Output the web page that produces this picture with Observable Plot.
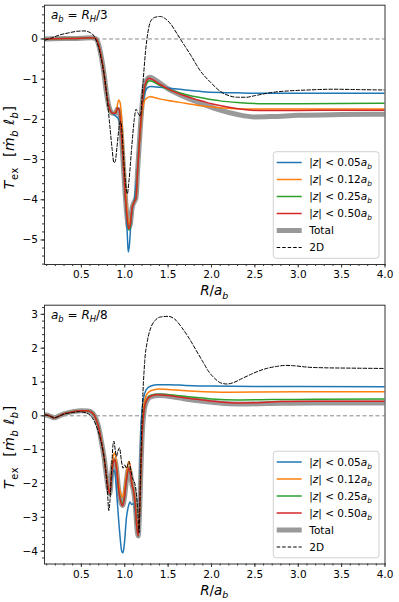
<!DOCTYPE html>
<html>
<head>
<meta charset="utf-8">
<script src="https://cdn.jsdelivr.net/npm/d3@7"></script>
<script src="https://cdn.jsdelivr.net/npm/@observablehq/plot@0.6"></script>
<style>
  html, body { margin: 0; padding: 0; background: #fff; }
  #chart { width: 399px; height: 602px; }
  #chart svg { display: block; overflow: visible; }
</style>
</head>
<body>
<div id="chart"></div>
<script>
// ---------------- DATA ----------------
const xMajorTicks = [0.5, 1.0, 1.5, 2.0, 2.5, 3.0, 3.5, 4.0];
const topYTicks = [-5, -4, -3, -2, -1, 0];
const botYTicks = [-4, -3, -2, -1, 0, 1, 2, 3];
const seriesCuts = ["0.05", "0.12", "0.25", "0.50"];
const seriesColors = ["#1f77b4", "#ff7f0e", "#2ca02c", "#d62728"];
const panelTitles = ["3", "8"];

// Top panel: a_b = R_H/3
const top_z005 = [[0.08,0],[0.3,0.01],[0.5,0.02],[0.62,0.03],[0.67,0],[0.7,-0.15],[0.73,-0.45],[0.76,-0.85],[0.79,-1.35],[0.82,-1.7],[0.86,-1.85],[0.9,-1.93],[0.93,-2.0],[0.96,-2.25],[0.99,-3.0],[1.01,-4.0],[1.03,-4.9],[1.04,-5.3],[1.055,-5.1],[1.07,-4.6],[1.09,-4.2],[1.11,-4.0],[1.14,-3.4],[1.17,-2.5],[1.2,-1.8],[1.23,-1.35],[1.27,-1.2],[1.3,-1.18],[1.4,-1.2],[1.5,-1.22],[1.7,-1.27],[1.9,-1.31],[2.1,-1.33],[2.3,-1.34],[2.6,-1.35],[3.0,-1.35],[3.5,-1.35],[4.0,-1.35]];
const top_z012 = [[0.08,0],[0.3,0.01],[0.5,0.02],[0.62,0.03],[0.67,0],[0.7,-0.15],[0.73,-0.45],[0.76,-0.85],[0.79,-1.35],[0.82,-1.7],[0.86,-1.85],[0.9,-1.8],[0.93,-1.52],[0.95,-1.62],[0.97,-2.2],[0.99,-3.0],[1.01,-3.7],[1.03,-4.35],[1.05,-4.6],[1.07,-4.45],[1.09,-4.15],[1.11,-4.05],[1.13,-3.95],[1.15,-3.2],[1.18,-2.3],[1.21,-1.7],[1.24,-1.5],[1.29,-1.44],[1.4,-1.49],[1.5,-1.53],[1.7,-1.6],[1.9,-1.67],[2.1,-1.71],[2.4,-1.74],[3.0,-1.74],[4.0,-1.74]];
const top_z025 = [[0.08,0],[0.3,0.01],[0.5,0.02],[0.62,0.03],[0.67,0],[0.7,-0.15],[0.73,-0.45],[0.76,-0.85],[0.79,-1.35],[0.82,-1.7],[0.86,-1.85],[0.895,-1.85],[0.915,-1.72],[0.935,-1.75],[0.955,-2.2],[0.98,-3.0],[1.0,-3.7],[1.025,-4.45],[1.05,-4.75],[1.065,-4.65],[1.085,-4.2],[1.11,-4.05],[1.13,-3.95],[1.15,-3.2],[1.18,-2.2],[1.21,-1.5],[1.24,-1.15],[1.29,-1.04],[1.4,-1.15],[1.5,-1.25],[1.7,-1.38],[1.9,-1.47],[2.1,-1.54],[2.3,-1.58],[2.6,-1.61],[3.0,-1.61],[4.0,-1.6]];
const top_z050 = [[0.08,0],[0.3,0.01],[0.5,0.02],[0.62,0.03],[0.67,0],[0.7,-0.15],[0.73,-0.45],[0.76,-0.85],[0.79,-1.35],[0.82,-1.7],[0.86,-1.85],[0.895,-1.85],[0.915,-1.72],[0.935,-1.75],[0.955,-2.2],[0.98,-3.0],[1.0,-3.7],[1.025,-4.4],[1.045,-4.72],[1.065,-4.6],[1.085,-4.2],[1.11,-4.05],[1.13,-3.95],[1.15,-3.2],[1.18,-2.2],[1.21,-1.45],[1.24,-1.1],[1.28,-0.98],[1.31,-1.0],[1.4,-1.12],[1.5,-1.24],[1.6,-1.34],[1.7,-1.42],[1.8,-1.49],[1.9,-1.55],[2.0,-1.61],[2.2,-1.7],[2.4,-1.76],[2.6,-1.78],[3.0,-1.78],[3.5,-1.77],[4.0,-1.77]];
const top_total = [[0.08,0],[0.3,0.01],[0.5,0.02],[0.62,0.03],[0.67,0],[0.7,-0.15],[0.73,-0.45],[0.76,-0.85],[0.79,-1.35],[0.82,-1.7],[0.86,-1.85],[0.895,-1.85],[0.915,-1.74],[0.935,-1.78],[0.955,-2.2],[0.98,-3.0],[1.0,-3.7],[1.025,-4.4],[1.045,-4.7],[1.065,-4.6],[1.085,-4.2],[1.11,-4.05],[1.13,-3.95],[1.15,-3.2],[1.18,-2.2],[1.21,-1.42],[1.24,-1.07],[1.29,-0.95],[1.35,-1.02],[1.5,-1.24],[1.7,-1.45],[1.9,-1.62],[2.1,-1.77],[2.3,-1.88],[2.5,-1.94],[2.7,-1.93],[3.0,-1.9],[3.5,-1.88],[4.0,-1.87]];
const top_2d = [[0.08,-0.03],[0.15,0.02],[0.25,0.1],[0.35,0.15],[0.45,0.19],[0.53,0.2],[0.6,0.16],[0.65,0.06],[0.69,-0.15],[0.73,-0.5],[0.77,-1.0],[0.8,-1.55],[0.83,-2.2],[0.855,-2.75],[0.875,-3.08],[0.89,-3.05],[0.91,-2.7],[0.935,-2.2],[0.95,-2.05],[0.965,-2.2],[0.985,-2.9],[1.01,-3.6],[1.03,-3.85],[1.05,-3.5],[1.08,-2.7],[1.11,-2.0],[1.13,-1.75],[1.155,-1.85],[1.18,-1.92],[1.21,-1.1],[1.24,-0.3],[1.27,0.2],[1.3,0.45],[1.35,0.54],[1.41,0.56],[1.47,0.5],[1.53,0.37],[1.6,0.14],[1.64,0],[1.7,-0.2],[1.76,-0.4],[1.87,-0.79],[1.99,-1.08],[2.1,-1.3],[2.2,-1.41],[2.3,-1.45],[2.4,-1.45],[2.5,-1.41],[2.7,-1.33],[2.9,-1.29],[3.1,-1.27],[3.4,-1.25],[3.7,-1.26],[4.0,-1.27]];

// Bottom panel: a_b = R_H/8
const bot_z005 = [[0.08,0.03],[0.13,0],[0.19,-0.06],[0.24,-0.01],[0.3,0.06],[0.4,0.12],[0.5,0.15],[0.58,0.14],[0.63,0.08],[0.67,-0.1],[0.7,-0.35],[0.73,-0.75],[0.76,-1.2],[0.79,-1.8],[0.81,-2.15],[0.828,-2.3],[0.85,-1.9],[0.87,-1.6],[0.885,-1.65],[0.91,-2.4],[0.94,-3.4],[0.965,-4.0],[0.98,-4.05],[0.995,-3.8],[1.02,-3.0],[1.04,-2.7],[1.06,-2.55],[1.08,-2.62],[1.1,-2.6],[1.12,-2.8],[1.14,-3.3],[1.16,-3.5],[1.17,-2.6],[1.18,-1.2],[1.19,-0.2],[1.21,0.4],[1.25,0.78],[1.3,0.88],[1.38,0.92],[1.5,0.92],[1.7,0.9],[2.0,0.88],[2.5,0.87],[3.0,0.87],[4.0,0.86]];
const bot_z012 = [[0.08,0.03],[0.13,0],[0.19,-0.06],[0.24,-0.01],[0.3,0.06],[0.4,0.12],[0.5,0.15],[0.58,0.14],[0.63,0.08],[0.67,-0.1],[0.7,-0.35],[0.73,-0.75],[0.76,-1.2],[0.79,-1.8],[0.81,-2.15],[0.828,-2.3],[0.85,-1.6],[0.87,-1.15],[0.885,-1.1],[0.905,-1.4],[0.93,-2.0],[0.955,-2.3],[0.975,-2.4],[0.995,-2.2],[1.02,-1.7],[1.045,-1.35],[1.065,-1.5],[1.085,-2.0],[1.1,-2.15],[1.12,-2.5],[1.14,-3.2],[1.155,-3.5],[1.17,-2.8],[1.185,-1.5],[1.2,-0.4],[1.22,0.3],[1.25,0.62],[1.3,0.74],[1.4,0.79],[1.6,0.76],[1.8,0.73],[2.2,0.7],[3.0,0.71],[4.0,0.71]];
const bot_z025 = [[0.08,0.03],[0.13,0],[0.19,-0.06],[0.24,-0.01],[0.3,0.06],[0.4,0.12],[0.5,0.15],[0.58,0.14],[0.63,0.08],[0.67,-0.1],[0.7,-0.35],[0.73,-0.75],[0.76,-1.2],[0.79,-1.8],[0.81,-2.15],[0.828,-2.3],[0.85,-1.7],[0.87,-1.35],[0.885,-1.3],[0.905,-1.55],[0.93,-2.2],[0.955,-2.5],[0.975,-2.62],[0.995,-2.42],[1.02,-1.9],[1.045,-1.55],[1.065,-1.7],[1.085,-2.05],[1.1,-2.2],[1.12,-2.6],[1.14,-3.3],[1.155,-3.55],[1.17,-2.9],[1.185,-1.7],[1.2,-0.6],[1.22,0.1],[1.25,0.45],[1.3,0.6],[1.4,0.64],[1.6,0.6],[1.8,0.55],[2.0,0.5],[2.3,0.47],[2.7,0.48],[3.2,0.49],[4.0,0.5]];
const bot_z050 = [[0.08,0.03],[0.13,0],[0.19,-0.06],[0.24,-0.01],[0.3,0.06],[0.4,0.12],[0.5,0.15],[0.58,0.14],[0.63,0.08],[0.67,-0.1],[0.7,-0.35],[0.73,-0.75],[0.76,-1.2],[0.79,-1.8],[0.81,-2.15],[0.828,-2.3],[0.85,-1.7],[0.87,-1.35],[0.885,-1.3],[0.905,-1.55],[0.93,-2.2],[0.955,-2.55],[0.975,-2.66],[0.995,-2.45],[1.02,-1.9],[1.045,-1.55],[1.065,-1.7],[1.085,-2.05],[1.1,-2.2],[1.12,-2.6],[1.14,-3.3],[1.155,-3.55],[1.17,-2.9],[1.185,-1.7],[1.2,-0.6],[1.22,0.1],[1.25,0.45],[1.3,0.58],[1.38,0.62],[1.5,0.6],[1.7,0.53],[1.9,0.47],[2.1,0.41],[2.3,0.38],[2.5,0.39],[2.8,0.42],[3.2,0.43],[4.0,0.43]];
const bot_total = [[0.08,0.03],[0.13,0],[0.19,-0.06],[0.24,-0.01],[0.3,0.06],[0.4,0.12],[0.5,0.15],[0.58,0.14],[0.63,0.08],[0.67,-0.1],[0.7,-0.35],[0.73,-0.75],[0.76,-1.2],[0.79,-1.8],[0.81,-2.15],[0.828,-2.3],[0.85,-1.7],[0.87,-1.35],[0.885,-1.3],[0.905,-1.55],[0.93,-2.2],[0.955,-2.55],[0.975,-2.65],[0.995,-2.45],[1.02,-1.9],[1.045,-1.55],[1.065,-1.7],[1.085,-2.05],[1.1,-2.2],[1.12,-2.6],[1.14,-3.3],[1.155,-3.55],[1.17,-2.9],[1.185,-1.7],[1.2,-0.6],[1.22,0.08],[1.25,0.42],[1.3,0.56],[1.4,0.6],[1.6,0.54],[1.8,0.46],[2.0,0.4],[2.2,0.36],[2.4,0.35],[2.8,0.37],[3.2,0.38],[4.0,0.38]];
const bot_2d = [[0.08,0.03],[0.13,0],[0.19,-0.06],[0.24,-0.01],[0.3,0.05],[0.4,0.1],[0.48,0.12],[0.55,0.09],[0.6,0.02],[0.64,-0.12],[0.68,-0.35],[0.72,-0.7],[0.75,-1.05],[0.78,-1.6],[0.8,-2.2],[0.816,-2.8],[0.83,-2.5],[0.85,-1.5],[0.865,-0.85],[0.875,-0.75],[0.89,-1.0],[0.905,-1.2],[0.92,-1.05],[0.94,-0.95],[0.96,-1.3],[0.98,-1.55],[1.0,-1.45],[1.02,-1.55],[1.05,-1.35],[1.07,-1.6],[1.09,-1.85],[1.11,-1.95],[1.13,-2.2],[1.15,-2.8],[1.165,-3.45],[1.18,-2.0],[1.2,0],[1.23,1.6],[1.26,2.2],[1.3,2.6],[1.35,2.82],[1.41,2.92],[1.5,2.94],[1.58,2.85],[1.66,2.6],[1.74,2.3],[1.82,1.95],[1.9,1.6],[1.97,1.3],[2.04,1.1],[2.1,0.98],[2.18,0.94],[2.25,0.98],[2.35,1.1],[2.45,1.22],[2.55,1.33],[2.65,1.41],[2.75,1.46],[2.85,1.49],[2.95,1.48],[3.1,1.44],[3.3,1.42],[3.6,1.41],[4.0,1.4]];

// ---------------- DRAWING ----------------
const FONT = "DejaVu Sans";
const xMinorTicks = d3.range(1, 41).map(i => i / 10);
const toRows = pairs => pairs.map(([x, y]) => ({x, y}));
const intFmt = d3.format("d");

function rich(parent, parts, size) {
  const t = parent.append("text").attr("font-size", size).attr("fill", "#000")
    .attr("text-anchor", "start").attr("font-family", FONT);
  let shift = 0;
  for (const p of parts) {
    const target = p.sub ? size * 0.28 : 0;
    const sp = t.append("tspan").text(p.t);
    if (target - shift !== 0) sp.attr("dy", target - shift);
    shift = target;
    if (p.i) sp.attr("font-style", "italic");
    if (p.sub) sp.attr("font-size", size * 0.7);
  }
  return t;
}

function panel({series, total, twoD, yDomain, yTicks, height, marginBottom, title}) {
  const marginTop = 4.7, marginLeft = 44, marginRight = 14.5, width = 399;
  const yMinor = d3.range(Math.ceil(yDomain[0] * 5), Math.floor(yDomain[1] * 5) + 1).map(i => i / 5);
  const curve = "monotone-x";
  const marks = [
    Plot.ruleY([0], {stroke: "#888", strokeWidth: 1, strokeDasharray: "4,2.5"}),
    Plot.line(toRows(total), {x: "x", y: "y", stroke: "#999", strokeWidth: 5, curve, clip: true}),
    ...series.map((s, i) => Plot.line(toRows(s), {x: "x", y: "y", stroke: seriesColors[i], strokeWidth: 1.5, curve, clip: true})),
    Plot.line(toRows(twoD), {x: "x", y: "y", stroke: "#000", strokeWidth: 1, strokeDasharray: "3.5,2", curve, clip: true}),
    Plot.frame({stroke: "#333", strokeWidth: 1}),
    Plot.axisX({ticks: xMinorTicks, tickSize: 2, tickFormat: () => "", label: null, stroke: "#333"}),
    Plot.axisX({ticks: xMajorTicks, tickSize: 3.5, tickPadding: 3, tickFormat: d3.format(".1f"), label: null, stroke: "#333", fontSize: 10.5}),
    Plot.axisY({ticks: yMinor, tickSize: 2, tickFormat: () => "", label: null, stroke: "#333"}),
    Plot.axisY({ticks: yTicks, tickSize: 3.5, tickPadding: 3, tickFormat: intFmt, label: null, stroke: "#333", fontSize: 10.5})
  ];
  const svg = Plot.plot({
    width, height, marginTop, marginLeft, marginRight, marginBottom,
    style: {fontFamily: FONT, fontSize: "10.5px", color: "#000", background: "transparent", overflow: "visible"},
    x: {domain: [0.075, 4.0], label: null},
    y: {domain: yDomain, label: null},
    marks
  });
  const g = d3.select(svg);
  const frameRight = width - marginRight, frameBottom = height - marginBottom;

  // panel annotation
  rich(g, [{t: "a", i: true}, {t: "b", i: true, sub: true}, {t: " = "}, {t: "R", i: true}, {t: "H", i: true, sub: true}, {t: "/" + title}], 12)
    .attr("x", 51).attr("y", marginTop + 14);

  // axis titles
  rich(g, [{t: "R", i: true}, {t: "/"}, {t: "a", i: true}, {t: "b", i: true, sub: true}], 13.5)
    .attr("x", (marginLeft + frameRight) / 2).attr("y", frameBottom + 31).attr("text-anchor", "middle");
  rich(g, [{t: "T", i: true}, {t: "ex", sub: true}, {t: "  ["}, {t: "ṁ", i: true}, {t: "b", i: true, sub: true}, {t: " ℓ", i: true}, {t: "b", i: true, sub: true}, {t: "]"}], 14)
    .attr("text-anchor", "middle").attr("letter-spacing", 0.6)
    .attr("transform", `translate(14,${(marginTop + frameBottom) / 2 + 13}) rotate(-90)`);

  // legend
  const lw = 105.7, lh = 106.6;
  const lx = frameRight - 5.5 - lw, ly = frameBottom - 5.7 - lh;
  const leg = g.append("g");
  leg.append("rect").attr("x", lx).attr("y", ly).attr("width", lw).attr("height", lh)
    .attr("rx", 3).attr("fill", "#fff").attr("fill-opacity", 0.85).attr("stroke", "#d0d0d0");
  const entries = [
    ...seriesCuts.map((c, i) => ({stroke: seriesColors[i], w: 1.5, dash: null, parts: [{t: "|"}, {t: "z", i: true}, {t: "| < " + c}, {t: "a", i: true}, {t: "b", i: true, sub: true}]})),
    {stroke: "#999", w: 5, dash: null, parts: [{t: "Total"}]},
    {stroke: "#000", w: 1, dash: "3.5,2", parts: [{t: "2D"}]}
  ];
  entries.forEach((e, i) => {
    const yy = ly + 10.8 + i * 17;
    const ln = leg.append("line").attr("x1", lx + 3.4).attr("x2", lx + 28.4).attr("y1", yy).attr("y2", yy)
      .attr("stroke", e.stroke).attr("stroke-width", e.w);
    if (e.dash) ln.attr("stroke-dasharray", e.dash);
    rich(leg, e.parts, 10.5).attr("x", lx + 36).attr("y", yy + 3.8);
  });
  return svg;
}

const root = document.getElementById("chart");
root.appendChild(panel({
  series: [top_z005, top_z012, top_z025, top_z050], total: top_total, twoD: top_2d,
  yDomain: [-5.61, 0.84], yTicks: topYTicks, height: 300, marginBottom: 36, title: panelTitles[0]
}));
root.appendChild(panel({
  series: [bot_z005, bot_z012, bot_z025, bot_z050], total: bot_total, twoD: bot_2d,
  yDomain: [-4.38, 3.27], yTicks: botYTicks, height: 302, marginBottom: 38.5, title: panelTitles[1]
}));
</script>
</body>
</html>
